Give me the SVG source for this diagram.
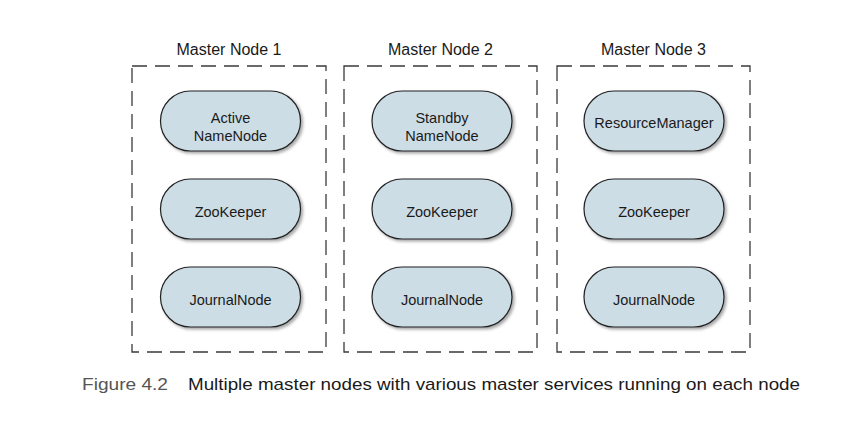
<svg xmlns="http://www.w3.org/2000/svg" width="850" height="436" viewBox="0 0 850 436">
<style>
.box{fill:none;stroke:#3a3a3a;stroke-width:1.3;stroke-dasharray:15 8;}
.pill{fill:#cddde6;stroke:#222;stroke-width:1.2;filter:url(#sh);}
.lbl{font-family:"Liberation Sans",Arial,sans-serif;font-size:16px;fill:#1a1a1a;text-anchor:middle;}
.t{font-family:"Liberation Sans",Arial,sans-serif;font-size:14.5px;fill:#1a1a1a;text-anchor:middle;}
.cap{font-family:"Liberation Sans",Arial,sans-serif;font-size:17px;}
</style>
<defs>
<filter id="sh" x="-20%" y="-20%" width="150%" height="160%">
<feDropShadow dx="2" dy="2" stdDeviation="1.5" flood-color="#000" flood-opacity="0.35"/>
</filter>
</defs>
<rect width="850" height="436" fill="#fff"/>
<g id="connectors"></g>
<g id="master1">
<rect class="box" x="132" y="66" width="194" height="286"/>
<text class="lbl" x="229" y="55">Master Node 1</text>
</g>
<g id="master2">
<rect class="box" x="344" y="66" width="193" height="286"/>
<text class="lbl" x="440.5" y="55">Master Node 2</text>
</g>
<g id="master3">
<rect class="box" x="557" y="66" width="193" height="286"/>
<text class="lbl" x="653.5" y="55">Master Node 3</text>
</g>
<g id="active-namenode">
<rect class="pill" x="160.5" y="91" width="140" height="60" rx="30"/>
<text class="t" x="230.5" y="123">Active</text>
<text class="t" x="230.5" y="141">NameNode</text>
</g>
<g id="zookeeper1">
<rect class="pill" x="160.5" y="179" width="140" height="60" rx="30"/>
<text class="t" x="230.5" y="217">ZooKeeper</text>
</g>
<g id="journalnode1">
<rect class="pill" x="160.5" y="267" width="140" height="60" rx="30"/>
<text class="t" x="230.5" y="305">JournalNode</text>
</g>
<g id="standby-namenode">
<rect class="pill" x="372" y="91" width="140" height="60" rx="30"/>
<text class="t" x="442" y="123">Standby</text>
<text class="t" x="442" y="141">NameNode</text>
</g>
<g id="zookeeper2">
<rect class="pill" x="372" y="179" width="140" height="60" rx="30"/>
<text class="t" x="442" y="217">ZooKeeper</text>
</g>
<g id="journalnode2">
<rect class="pill" x="372" y="267" width="140" height="60" rx="30"/>
<text class="t" x="442" y="305">JournalNode</text>
</g>
<g id="resourcemanager">
<rect class="pill" x="584" y="91" width="140" height="60" rx="30"/>
<text class="t" x="654" y="128">ResourceManager</text>
</g>
<g id="zookeeper3">
<rect class="pill" x="584" y="179" width="140" height="60" rx="30"/>
<text class="t" x="654" y="217">ZooKeeper</text>
</g>
<g id="journalnode3">
<rect class="pill" x="584" y="267" width="140" height="60" rx="30"/>
<text class="t" x="654" y="305">JournalNode</text>
</g>
<g id="caption">
<text class="cap" x="82" y="390" fill="#555" textLength="86" lengthAdjust="spacingAndGlyphs">Figure 4.2</text>
<text class="cap" x="188" y="390" fill="#1a1a1a" textLength="612" lengthAdjust="spacingAndGlyphs">Multiple master nodes with various master services running on each node</text>
</g>
</svg>
